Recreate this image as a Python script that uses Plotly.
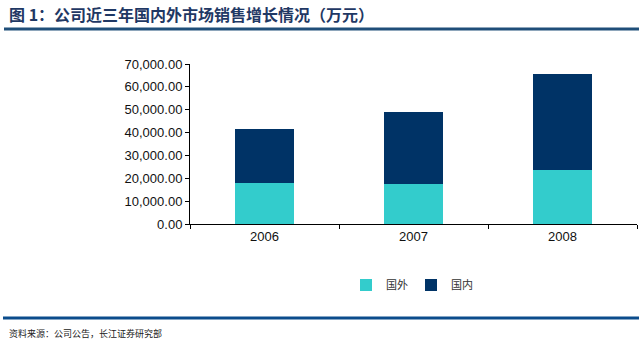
import plotly.graph_objects as go

years = ["2006", "2007", "2008"]
foreign = [18000, 17700, 23800]
domestic = [23600, 31400, 42000]
y_ticks = [0, 10000, 20000, 30000, 40000, 50000, 60000, 70000]

W, H = 639, 357
L, R, T, B = 190, 637, 64, 224  # plot area in px


def px(x):
    return (x - L) / (R - L)


def py(y):
    return (B - y) / (B - T)


fig = go.Figure()
fig.add_trace(go.Bar(x=years, y=foreign, name="国外", marker_color="#33CCCC",
                     marker_line_width=0))
fig.add_trace(go.Bar(x=years, y=domestic, name="国内", marker_color="#003366",
                     marker_line_width=0))

font_cjk = "Noto Sans CJK SC, Liberation Sans, Arial, sans-serif"

fig.update_layout(
    width=W, height=H,
    margin=dict(l=L, r=W - R, t=T, b=H - B, autoexpand=False),
    barmode="stack", bargap=0.6,
    plot_bgcolor="white", paper_bgcolor="white",
    font=dict(family="Liberation Sans, Arial, sans-serif", size=13, color="#111111"),
    showlegend=True,
    legend=dict(orientation="h", x=px(411), xanchor="center", y=py(285), yanchor="middle",
                font=dict(family=font_cjk, size=11, color="#333333"),
                itemwidth=30, entrywidth=20, entrywidthmode="pixels",
                traceorder="normal", bgcolor="rgba(0,0,0,0)"),
    xaxis=dict(showline=True, linecolor="black", linewidth=1, ticks="outside",
               tickcolor="black", ticklen=4, tickson="boundaries",
               tickfont=dict(size=13), showgrid=False, zeroline=False),
    yaxis=dict(range=[0, 70000], tickvals=y_ticks, tickformat=",.2f",
               showline=True, linecolor="black", linewidth=1, ticks="outside",
               tickcolor="black", ticklen=4, showgrid=False, zeroline=False,
               tickfont=dict(size=13)),
)

fig.add_annotation(xref="paper", yref="paper", x=px(7), y=py(14), xanchor="left",
                   yanchor="middle", showarrow=False,
                   text="<b>图 1：公司近三年国内外市场销售增长情况（万元）</b>",
                   font=dict(family=font_cjk, size=16, color="#1F3864"))
fig.add_shape(type="line", xref="paper", yref="paper", x0=px(4), x1=px(639),
              y0=py(29), y1=py(29), line=dict(color="#1F4E79", width=3))
fig.add_shape(type="line", xref="paper", yref="paper", x0=px(3), x1=px(639),
              y0=py(318), y1=py(318), line=dict(color="#0B4C8C", width=3))
fig.add_annotation(xref="paper", yref="paper", x=px(7), y=py(333), xanchor="left",
                   yanchor="middle", showarrow=False,
                   text="资料来源：公司公告，长江证券研究部",
                   font=dict(family=font_cjk, size=9, color="#222222"))

fig.write_html("out.html", config={"displayModeBar": False},
               post_script="document.body.style.margin='0';")
